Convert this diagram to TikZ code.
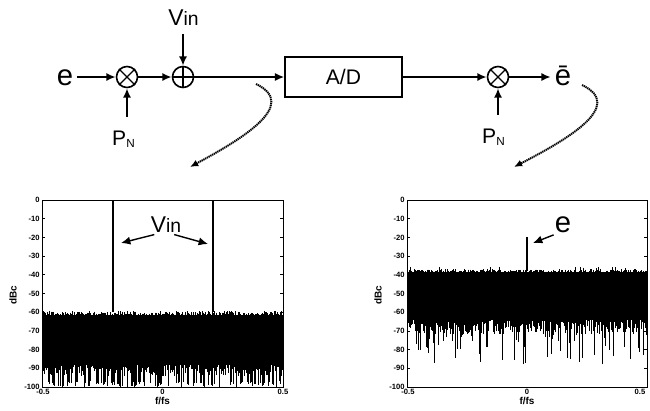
\documentclass[tikz,border=0pt]{standalone}
\usepackage{fontspec}
\setmainfont{Liberation Sans}
\usetikzlibrary{arrows.meta,positioning}

\begin{document}
\begin{tikzpicture}[x=0.03cm,y=-0.03cm,
    sig/.style={line width=1.6pt},
    tip/.style={-{Latex[length=8pt,width=7pt]}},
    junc/.style={circle,draw,line width=1.4pt,minimum size=0.63cm,inner sep=0pt},
    big/.style={font=\fontsize{25}{28}\selectfont},
    mid/.style={font=\fontsize{18}{20}\selectfont},
    dots/.style={line width=1.7pt,dash pattern=on 1.1pt off 0.6pt,-{Latex[length=7pt,width=6pt]}},
    frame/.style={line width=0.7pt},
    noise/.style={line width=0.8pt},
    ticklab/.style={font=\fontsize{6.5}{7}\selectfont\bfseries,inner sep=1pt},
    axlab/.style={font=\fontsize{8.5}{9}\selectfont\bfseries,inner sep=0pt}]
    \useasboundingbox (0,0) rectangle (650,410);
    \def\vintxt{{\fontsize{19.5}{21}\selectfont V}{\fontsize{16.5}{18}\selectfont in}}
    \def\pntxt{P{\fontsize{10}{11}\selectfont\raisebox{-2pt}{N}}}

    % block diagram
    \node[big,anchor=base] (ein) at (65,85) {e};
    \node[junc] (mixA) at (127,77) {};
    \node[junc] (sumV) at (183,77) {};
    \node[draw,line width=1.5pt,minimum width=3.5cm,minimum height=1.2cm,mid] (adc) at (343.5,77) {A/D};
    \node[junc] (mixB) at (498,77) {};
    \node[big,anchor=base] (eout) at (563,85) {ē};
    \node[anchor=base] (vin) at (183.5,25) {\vintxt};
    \node[mid,anchor=base] (pnA) at (123.5,145) {\pntxt};
    \node[mid,anchor=base] (pnB) at (493.5,143) {\pntxt};

    % multiplier / adder marks
    \draw[line width=1.1pt] (mixA.north east) -- (mixA.south west) (mixA.north west) -- (mixA.south east);
    \draw[line width=1.1pt] (mixB.north east) -- (mixB.south west) (mixB.north west) -- (mixB.south east);
    \draw[line width=1.1pt] (sumV.north) -- (sumV.south) (sumV.west) -- (sumV.east);

    % signal path
    \draw[sig,tip] (ein.east |- mixA) -- (mixA.west);
    \draw[sig,tip] (mixA.east) -- (sumV.west);
    \draw[sig,tip] (sumV.east) -- (adc.west);
    \draw[sig,tip] (adc.east) -- (mixB.west);
    \draw[sig,tip] (mixB.east) -- (eout.west |- mixB);
    \draw[sig,tip,shorten <=4pt] (vin.south -| sumV.north) -- (sumV.north);
    \draw[sig,tip,shorten <=8pt] (mixA.south |- pnA.north) -- (mixA.south);
    \draw[sig,tip,shorten <=8pt] (mixB.south |- pnB.north) -- (mixB.south);

    % pointers to the spectra
    \coordinate (tapA) at (256,84);
    \coordinate (specA) at (190,167);
    \coordinate (tapB) at (582,85);
    \coordinate (specB) at (514,167);
    \draw[dots] (tapA) .. controls (300,105) and (240,140) .. (specA);
    \draw[dots] (tapB) .. controls (626,106) and (566,140) .. (specB);

    % spectrum plots: y in dB -> 200-1.87*dB, x from -0.5 to 0.5
    \pgfmathsetseed{11}
    % left plot, floor near -60 dBc
    \fill (42,{200+1.87*61.5}) rectangle (283,{200+1.87*88});
    \foreach \i in {0,...,240}{
        \pgfmathsetmacro{\hi}{-59.4-2.6*rnd}
        \pgfmathsetmacro{\lo}{rnd<0.4 ? -100+3*rnd : -94+6.5*rnd}
        \draw[noise] (42+\i,{200-1.87*\hi}) -- (42+\i,{200-1.87*\lo});
    }
    \draw[line width=0.9pt] (113,{200+1.87*60}) -- (113,200);
    \draw[line width=0.9pt] (213,{200+1.87*60}) -- (213,200);
    % right plot, floor near -38 dBc
    \fill (407,{200+1.87*38.5}) rectangle (647,{200+1.87*63});
    \foreach \i in {0,...,240}{
        \pgfmathsetmacro{\hi}{rnd<0.06 ? -35.5-rnd : -37-1.8*rnd}
        \pgfmathsetmacro{\lo}{rnd<0.22 ? -72-16*rnd : -64-8*rnd}
        \draw[noise] (407+\i,{200-1.87*\hi}) -- (407+\i,{200-1.87*\lo});
    }
    \draw[line width=0.9pt] (527,{200+1.87*38}) -- (527,{200+1.87*20});

    % frames, ticks and tick labels
    \foreach \xo/\xe in {42/283,407/647}{
        \draw[frame] (\xo,200) rectangle (\xe,387);
        \foreach \k in {0,...,10}{
            \draw[frame] (\xo,{200+18.7*\k}) -- ++(3,0);
            \draw[frame] (\xe,{200+18.7*\k}) -- ++(-3,0);
            \node[ticklab,anchor=east] at (\xo-1,{200+18.7*\k}) {\ifnum\k=0 0\else-\the\numexpr 10*\k\relax\fi};
        }
        \node[ticklab,anchor=north] at (\xo+1,388) {-0.5};
        \node[ticklab,anchor=north] at ({(\xo+\xe)/2},388) {0};
        \node[ticklab,anchor=north] at ({min(\xe,640)},388) {0.5};
        \node[axlab,anchor=north] at ({(\xo+\xe)/2},397) {f/fs};
        \node[axlab,rotate=90] at (\xo-29,295) {dBc};
    }

    % spectrum annotations
    \coordinate (pkL) at (121,243);
    \coordinate (pkR) at (208,244);
    \coordinate (pkC) at (533,243);
    \node[anchor=base,inner sep=2pt] (vinP) at (166,232) {\vintxt};
    \node[big,anchor=base,inner sep=2pt] (eP) at (563,232) {e};
    \draw[sig,tip,line width=1.2pt] ([xshift=-10pt]vinP.south) -- (pkL);
    \draw[sig,tip,line width=1.2pt] ([xshift=7pt]vinP.south) -- (pkR);
    \draw[sig,tip,line width=1.2pt] ([xshift=-8pt]eP.south) -- (pkC);
\end{tikzpicture}
\end{document}
